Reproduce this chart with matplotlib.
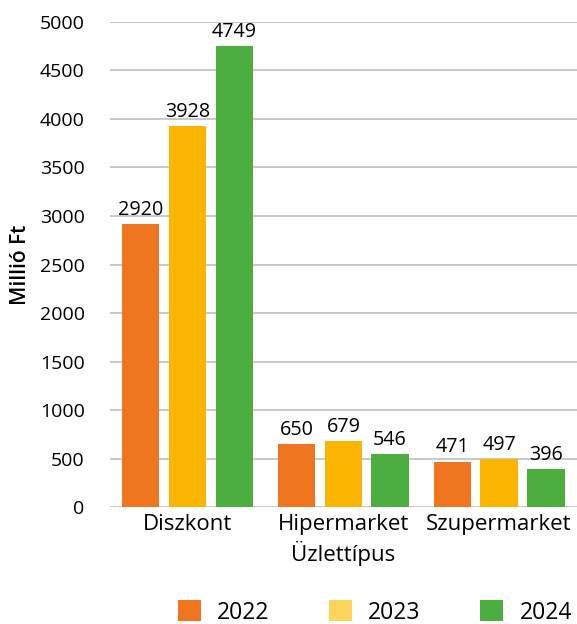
import numpy as np
import matplotlib.pyplot as plt

plt.rcParams['font.family'] = ['Open Sans', 'DejaVu Sans']

# sales by store type, million Ft
Categories = ["Diszkont", "Hipermarket", "Szupermarket"]
Years = ["2022", "2023", "2024"]
Values2022 = [2920, 650, 471]
Values2023 = [3928, 679, 497]
Values2024 = [4749, 546, 396]

BarColors = ["#F07520", "#FBB400", "#4BAE3F"]
LegendColors = ["#F07520", "#FFD45A", "#4BAE3F"]

fig = plt.figure(figsize=(5.77, 6.24), dpi=100)
ax = fig.add_axes([0.19, 0.187, 0.81, 0.778])

xPos = np.arange(len(Categories))
Offset = 0.30
Width = 0.24

Bars = []
for i, (Vals, Col) in enumerate(zip([Values2022, Values2023, Values2024], BarColors)):
    b = ax.bar(xPos + (i - 1) * Offset, Vals, Width, color=Col, zorder=3, label=Years[i])
    ax.bar_label(b, labels=[str(v) for v in Vals], padding=3, fontsize=14.2)
    Bars.append(b)

# axes and grid
ax.set_xlim(-0.5, 2.5)
ax.set_ylim(0, 5000)
ax.set_yticks(np.arange(0, 5001, 500))
ax.yaxis.grid(True, color="#BFBFBF", linewidth=1.2, zorder=0)
for s in ax.spines.values():
    s.set_visible(False)
ax.tick_params(axis="y", length=0, labelsize=14, pad=18)
ax.tick_params(axis="x", length=0, labelsize=16, pad=5)
ax.set_xticks(xPos)
ax.set_xticklabels(Categories)
ax.set_xlabel("Üzlettípus", fontsize=16, labelpad=4)
ax.set_ylabel("Millió Ft", fontsize=15, fontweight="semibold", labelpad=6)

# legend along the bottom edge
Leg = fig.legend(handles=Bars, loc="lower center", bbox_to_anchor=(0.65, -0.034),
                 ncol=3, frameon=False, fontsize=16.5, handlelength=1.0,
                 handleheight=1.0, columnspacing=2.6, handletextpad=0.7)
for h, c in zip(Leg.legend_handles, LegendColors):
    h.set_facecolor(c)

fig.savefig("out.png", dpi=100)
